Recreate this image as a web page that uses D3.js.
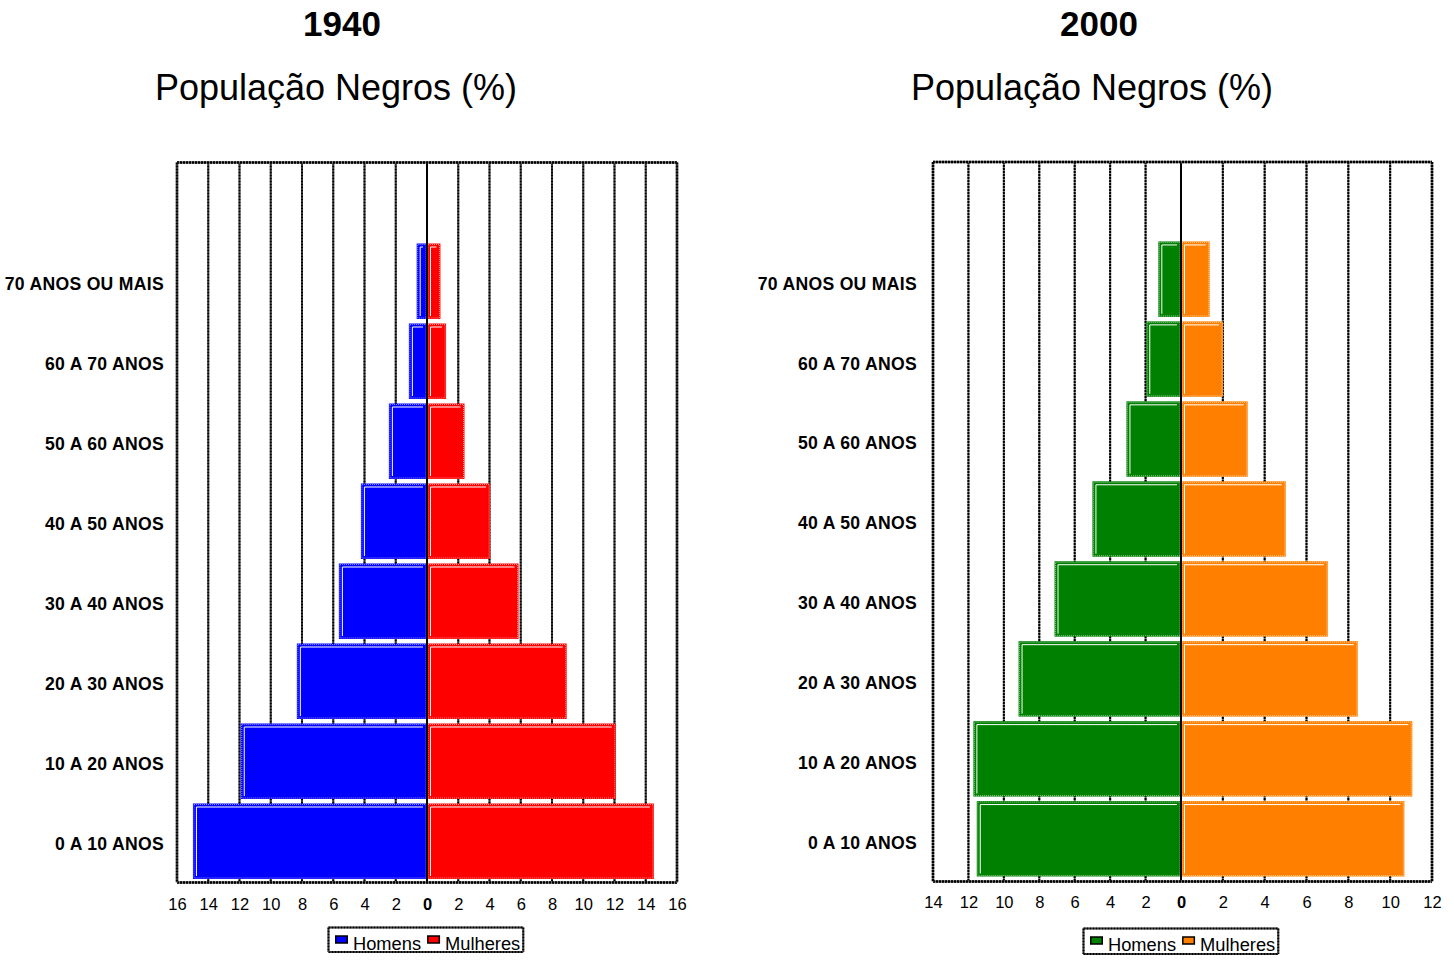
<!DOCTYPE html>
<html><head><meta charset="utf-8">
<script src="https://cdn.jsdelivr.net/npm/d3@7"></script>
<style>body{margin:0;background:#fff} svg{display:block}</style>
</head><body>
<svg id="c" width="1454" height="962"></svg>
<script>
// ---------- DATA ----------
const categories = ["0 A 10 ANOS", "10 A 20 ANOS", "20 A 30 ANOS", "30 A 40 ANOS",
  "40 A 50 ANOS", "50 A 60 ANOS", "60 A 70 ANOS", "70 ANOS OU MAIS"];
const homens1940   = [14.98, 11.92, 8.33, 5.64, 4.23, 2.44, 1.16, 0.66];
const mulheres1940 = [14.52, 12.08, 8.94, 5.86, 4.04, 2.40, 1.22, 0.86];
const homens2000   = [11.53, 11.72, 9.17, 7.14, 5.00, 3.08, 1.96, 1.28];
const mulheres2000 = [10.68, 11.06, 8.45, 7.02, 5.01, 3.19, 2.01, 1.37];
const ticksLeft1940  = [16, 14, 12, 10, 8, 6, 4, 2, 0];
const ticksRight1940 = [2, 4, 6, 8, 10, 12, 14, 16];
const ticksLeft2000  = [14, 12, 10, 8, 6, 4, 2, 0];
const ticksRight2000 = [2, 4, 6, 8, 10, 12];
const seriesNames = ["Homens", "Mulheres"];
const titleText = "População Negros (%)";

// ---------- DRAW ----------
const svg = d3.select("#c");
const FONT = "'Liberation Sans', Arial, Helvetica, sans-serif";

function dottedLine(g, x1, y1, x2, y2, w) {
  g.append("line").attr("x1", x1).attr("y1", y1).attr("x2", x2).attr("y2", y2)
    .attr("stroke", "#6a6a6a").attr("stroke-width", w);
  g.append("line").attr("x1", x1).attr("y1", y1).attr("x2", x2).attr("y2", y2)
    .attr("stroke", "#000").attr("stroke-width", w).attr("stroke-dasharray", "2,1");
}

function drawBar(g, x, yy, w, h, color) {
  if (w <= 0) return;
  g.append("rect").attr("x", x + 1).attr("y", yy + 1).attr("width", Math.max(0, w - 2)).attr("height", h - 2)
    .attr("fill", color).attr("stroke", color).attr("stroke-width", 2);
  g.append("rect").attr("x", x + 1).attr("y", yy + 1).attr("width", Math.max(0, w - 2)).attr("height", h - 2)
    .attr("fill", "none").attr("stroke", "#fff").attr("stroke-opacity", 0.55)
    .attr("stroke-width", 1).attr("stroke-dasharray", "1,1");
  g.append("path")
    .attr("d", `M${x + 3.5},${yy + h - 3} V${yy + 3.5} H${x + w - 4}`)
    .attr("fill", "none").attr("stroke", "#fff").attr("stroke-width", 1);
}

function drawChart(cfg) {
  const g = svg.append("g");
  const xL = d3.scaleLinear().domain([cfg.ticksL[0], 0]).range([cfg.left, cfg.zero]);
  const xR = d3.scaleLinear().domain([0, cfg.ticksR[cfg.ticksR.length - 1]]).range([cfg.zero, cfg.right]);
  const y = d3.scaleBand().domain(["", ...categories.slice().reverse()])
    .range([cfg.top, cfg.bottom]);
  const bw = y.bandwidth();

  // titles
  g.append("text").attr("x", cfg.titleX).attr("y", 36).attr("text-anchor", "middle")
    .attr("font-family", FONT).attr("font-weight", "bold").attr("font-size", 35).text(cfg.year);
  g.append("text").attr("x", cfg.subX).attr("y", 100).attr("text-anchor", "middle")
    .attr("font-family", FONT).attr("font-size", 36).text(titleText);

  // gridlines
  const gridG = g.append("g");
  cfg.ticksL.filter((v, i) => i > 0 && v !== 0).forEach(v => dottedLine(gridG, xL(v), cfg.top, xL(v), cfg.bottom, 2));
  cfg.ticksR.filter((v, i) => i < cfg.ticksR.length - 1).forEach(v => dottedLine(gridG, xR(v), cfg.top, xR(v), cfg.bottom, 2));

  // bars
  const barG = g.append("g");
  categories.forEach((c, i) => {
    const yy = y(c) + cfg.barOff;
    const h = bw - 4.5;
    const hv = cfg.homens[i], mv = cfg.mulheres[i];
    drawBar(barG, xL(hv), yy, cfg.zero - xL(hv), h, cfg.colors[0]);
    drawBar(barG, cfg.zero, yy, xR(mv) - cfg.zero, h, cfg.colors[1]);
  });

  // zero line
  g.append("line").attr("x1", cfg.zero).attr("x2", cfg.zero).attr("y1", cfg.top).attr("y2", cfg.bottom)
    .attr("stroke", "#000").attr("stroke-width", 2);

  // frame
  const fr = g.append("g");
  dottedLine(fr, cfg.left, cfg.top, cfg.right, cfg.top, 2.5);
  dottedLine(fr, cfg.left, cfg.bottom, cfg.right, cfg.bottom, 2.5);
  dottedLine(fr, cfg.left, cfg.top, cfg.left, cfg.bottom, 2.5);
  dottedLine(fr, cfg.right, cfg.top, cfg.right, cfg.bottom, 2.5);

  // category labels
  g.append("g").selectAll("text").data(categories).join("text")
    .attr("x", cfg.labelX).attr("y", d => y(d) + bw / 2 + 1.5)
    .attr("dy", "0.35em").attr("text-anchor", "end")
    .attr("font-family", FONT).attr("font-weight", "bold").attr("font-size", 17.6)
    .attr("letter-spacing", 0.3)
    .text(d => d);

  // axes
  const axL = g.append("g").attr("transform", `translate(0,${cfg.axisY})`)
    .call(d3.axisBottom(xL).tickValues(cfg.ticksL).tickSize(0).tickPadding(0).tickFormat(d => d));
  const axR = g.append("g").attr("transform", `translate(0,${cfg.axisY})`)
    .call(d3.axisBottom(xR).tickValues(cfg.ticksR).tickSize(0).tickPadding(0).tickFormat(d => d));
  [axL, axR].forEach(ax => {
    ax.select(".domain").remove();
    ax.selectAll("text").attr("dy", 0).attr("y", 0).attr("fill", "#000")
      .attr("font-family", FONT).attr("font-size", 16.5)
      .attr("font-weight", d => d === 0 ? "bold" : "normal");
  });

  // legend
  const lg = g.append("g").attr("transform", `translate(${cfg.legX},${cfg.legY})`);
  const box = lg.append("g");
  const items = lg.append("g");
  let cx = 6.5;
  seriesNames.forEach((n, i) => {
    items.append("rect").attr("x", cx + 0.75).attr("y", 8.5).attr("width", 11.5).attr("height", 7)
      .attr("fill", cfg.colors[i]).attr("stroke", "#000").attr("stroke-width", 1.5);
    const t = items.append("text").attr("x", cx + 18).attr("y", 22).attr("font-family", FONT)
      .attr("font-size", 18.3).attr("fill", "#000").text(n);
    cx = cx + 18 + t.node().getComputedTextLength() + 6;
  });
  const bwid = cx - 6 + 3;
  dottedLine(box, 0, 0, bwid, 0, 2);
  dottedLine(box, 0, cfg.legH, bwid, cfg.legH, 2);
  dottedLine(box, 0, 0, 0, cfg.legH, 2);
  dottedLine(box, bwid, 0, bwid, cfg.legH, 2);
}

drawChart({
  year: "1940", titleX: 342, subX: 336,
  left: 177, right: 677, zero: 427, top: 162.5, bottom: 882.5, barOff: 1,
  ticksL: ticksLeft1940, ticksR: ticksRight1940,
  homens: homens1940, mulheres: mulheres1940, colors: ["#0000ff", "#ff0000"],
  labelX: 164, axisY: 910, legX: 328.5, legY: 927.5, legH: 24.5
});
drawChart({
  year: "2000", titleX: 1099, subX: 1092,
  left: 933, right: 1432, zero: 1181, top: 162, bottom: 881.5, barOff: -0.5,
  ticksL: ticksLeft2000, ticksR: ticksRight2000,
  homens: homens2000, mulheres: mulheres2000, colors: ["#008000", "#ff8000"],
  labelX: 917, axisY: 907.5, legX: 1083.5, legY: 928.5, legH: 25.5
});
</script>
</body></html>
